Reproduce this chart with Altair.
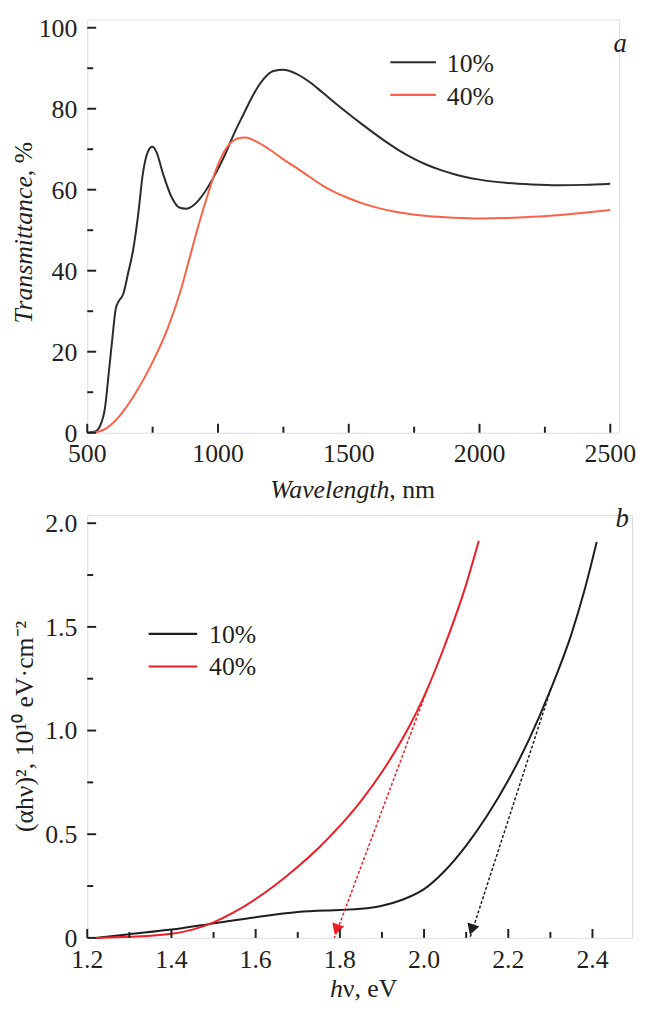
import altair as alt
import pandas as pd

# ---------------- Panel a: transmittance spectra ----------------
wl_10 = [500, 530, 549, 568, 583, 596, 609, 619, 638, 657, 676, 694, 713, 732, 749, 764, 789, 821,
         852, 878, 909, 947, 985, 1023, 1061, 1098, 1136, 1174, 1212, 1250, 1300, 1350, 1400, 1450,
         1500, 1550, 1600, 1650, 1700, 1750, 1800, 1850, 1900, 1950, 2000, 2100, 2200, 2300, 2400, 2500]
tr_10 = [0, 0.3, 1.7, 6.2, 15.2, 23.3, 30.6, 32.3, 34.3, 39.6, 45.3, 53.5, 64.1, 69.4, 70.6, 69.4, 64.1, 58.4,
         55.6, 55.3, 56.3, 59.2, 63.3, 68.1, 73.8, 78.7, 83.6, 87.3, 89.3, 89.6, 88.6, 86.6, 84.0, 81.3,
         78.7, 76.2, 73.8, 71.5, 69.4, 67.6, 66.1, 64.9, 63.9, 63.1, 62.5, 61.7, 61.3, 61.1, 61.2, 61.5]
wl_40 = [520, 568, 619, 682, 745, 808, 859, 897, 928, 959, 997, 1035, 1073, 1105, 1149, 1200, 1250,
         1300, 1350, 1400, 1450, 1500, 1550, 1600, 1700, 1800, 1900, 2000, 2100, 2200, 2300, 2400, 2500]
tr_40 = [0, 0.9, 3.8, 9.5, 16.8, 25.8, 35.5, 44.5, 51.8, 58.4, 65.7, 70.6, 72.6, 72.9, 71.8, 69.8, 67.5,
         65.4, 63.2, 61.0, 59.3, 57.9, 56.7, 55.7, 54.3, 53.5, 53.1, 52.9, 53.0, 53.3, 53.7, 54.3, 55.0]

# ---------------- Panel b: Tauc plot ----------------
hv_10 = [1.22, 1.30, 1.40, 1.50, 1.60, 1.70, 1.80, 1.85, 1.90, 1.95, 2.00, 2.05, 2.10, 2.15,
         2.20, 2.25, 2.30, 2.35, 2.38, 2.41]
ah_10 = [0, 0.018, 0.04, 0.07, 0.10, 0.125, 0.135, 0.14, 0.155, 0.185, 0.235, 0.325, 0.445, 0.59,
         0.76, 0.96, 1.195, 1.465, 1.669, 1.909]
hv_40 = [1.22, 1.30, 1.40, 1.45, 1.50, 1.55, 1.60, 1.65, 1.70, 1.75, 1.80, 1.85, 1.90, 1.95,
         2.00, 2.05, 2.10, 2.13]
ah_40 = [0, 0.005, 0.02, 0.04, 0.075, 0.125, 0.1875, 0.26, 0.3425, 0.435, 0.54, 0.66, 0.80, 0.965,
         1.165, 1.415, 1.705, 1.915]

# extrapolation arrows (start on curve -> band gap on axis)
arrow_series = ["40%", "10%"]
arrow_x0 = [2.007, 2.301]
arrow_y0 = [1.195, 1.20]
arrow_x1 = [1.787, 2.109]
arrow_y1 = [0.0, 0.0]
head_x = [1.792, 2.113]
head_y = [0.04, 0.04]

series = ["10%", "40%"]

# ticks / labels
a_x_major = [500, 1000, 1500, 2000, 2500]
a_x_labels = ["500", "1000", "1500", "2000", "2500"]
a_x_minor = [750, 1250, 1750, 2250]
a_y_major = [0, 20, 40, 60, 80, 100]
a_y_labels = ["0", "20", "40", "60", "80", "100"]
a_y_minor = [10, 30, 50, 70, 90]
b_x_major = [1.2, 1.4, 1.6, 1.8, 2.0, 2.2, 2.4]
b_x_labels = ["1.2", "1.4", "1.6", "1.8", "2.0", "2.2", "2.4"]
b_x_minor = [1.3, 1.5, 1.7, 1.9, 2.1, 2.3]
b_y_major = [0, 0.5, 1.0, 1.5, 2.0]
b_y_labels = ["0", "0.5", "1.0", "1.5", "2.0"]
b_y_minor = [0.25, 0.75, 1.25, 1.75]

FONT = "Liberation Serif, Times New Roman, serif"
INK = "#231f20"
FS = 26

A_W, A_H = 537, 417
B_W, B_H = 550, 427
A_XDOM, A_YDOM = [500, 2534], [0, 102]
B_XDOM, B_YDOM = [1.2, 2.494], [0, 2.04]


def axis(orient):
    return alt.Axis(title=None, ticks=False, labels=False, grid=False, domainColor=INK,
                    domainWidth=2.5, orient=orient)


def frame_layers(xs, ys, w, h, xmaj, xlab, xmin, ymaj, ylab, ymin):
    layers = []
    for vals, ln in ((xmaj, 9), (xmin, 6)):
        layers.append(
            alt.Chart(pd.DataFrame({"v": vals})).mark_rule(color=INK, strokeWidth=2).encode(
                x=alt.X("v:Q", scale=xs, axis=None), y=alt.value(h), y2=alt.value(h - ln)))
    for vals, ln in ((ymaj, 9), (ymin, 6)):
        layers.append(
            alt.Chart(pd.DataFrame({"v": vals})).mark_rule(color=INK, strokeWidth=2).encode(
                y=alt.Y("v:Q", scale=ys, axis=None), x=alt.value(0), x2=alt.value(ln)))
    layers.append(
        alt.Chart(pd.DataFrame({"v": xmaj, "t": xlab})).mark_text(
            font=FONT, fontSize=FS, color=INK, align="center", baseline="alphabetic").encode(
            x=alt.X("v:Q", scale=xs, axis=None), y=alt.value(h + 30), text="t:N"))
    layers.append(
        alt.Chart(pd.DataFrame({"v": ymaj, "t": ylab})).mark_text(
            font=FONT, fontSize=FS, color=INK, align="right", baseline="alphabetic", dy=9).encode(
            y=alt.Y("v:Q", scale=ys, axis=None), x=alt.value(-10), text="t:N"))
    return layers


def txt(s, x, y, italic=False, align="left", angle=0, baseline="middle", size=FS):
    return alt.Chart().mark_text(text=s, font=FONT, fontSize=size, color=INK,
                                 fontStyle="italic" if italic else "normal",
                                 align=align, angle=angle, baseline=baseline).encode(
        x=alt.value(x), y=alt.value(y))


def legend_rule(x1, x2, y, color):
    return alt.Chart().mark_rule(color=color, strokeWidth=2.2).encode(
        x=alt.value(x1), x2=alt.value(x2), y=alt.value(y))


# ---------------- build panel a ----------------
A_BLACK, A_RED = "#2b2b2b", "#fa6146"
ax = alt.Scale(domain=A_XDOM, nice=False, zero=False)
ay = alt.Scale(domain=A_YDOM, nice=False, zero=False)
df_a = pd.concat([
    pd.DataFrame({"x": wl_10, "y": tr_10, "s": series[0]}),
    pd.DataFrame({"x": wl_40, "y": tr_40, "s": series[1]}),
])
lines_a = alt.Chart(df_a).mark_line(strokeWidth=2, interpolate="monotone").encode(
    x=alt.X("x:Q", scale=ax, axis=axis("bottom")),
    y=alt.Y("y:Q", scale=ay, axis=axis("left")),
    color=alt.Color("s:N", scale=alt.Scale(domain=series, range=[A_BLACK, A_RED]), legend=None),
    detail="s:N",
)

panel_a = alt.layer(
    lines_a,
    *frame_layers(ax, ay, A_W, A_H, a_x_major, a_x_labels, a_x_minor, a_y_major, a_y_labels, a_y_minor),
    legend_rule(306, 352, 43, A_BLACK),
    legend_rule(306, 352, 76, A_RED),
    txt(series[0], 363, 45),
    txt(series[1], 363, 78),
    txt("a", 538, 25, italic=True, align="center", size=27),
    txt("Transmittance", -64, 158, italic=True, align="right", angle=270),
    txt(", %", -64, 158, align="left", angle=270),
    txt("Wavelength", 305, 483, italic=True, align="right", baseline="alphabetic"),
    txt(", nm", 305, 483, align="left", baseline="alphabetic"),
).properties(width=A_W, height=A_H)

# ---------------- build panel b ----------------
B_BLACK, B_RED = "#1e1e1e", "#ee1c25"
df_b = pd.concat([
    pd.DataFrame({"x": hv_10, "y": ah_10, "s": series[0]}),
    pd.DataFrame({"x": hv_40, "y": ah_40, "s": series[1]}),
])
bx = alt.Scale(domain=B_XDOM, nice=False, zero=False)
by = alt.Scale(domain=B_YDOM, nice=False, zero=False)
cscale_b = alt.Scale(domain=series, range=[B_BLACK, B_RED])

lines_b = alt.Chart(df_b).mark_line(strokeWidth=2, interpolate="monotone").encode(
    x=alt.X("x:Q", scale=bx, axis=axis("bottom")),
    y=alt.Y("y:Q", scale=by, axis=axis("left")),
    color=alt.Color("s:N", scale=cscale_b, legend=None),
    detail="s:N",
)

df_arrow = pd.DataFrame({"s": arrow_series, "x0": arrow_x0, "y0": arrow_y0,
                         "x1": arrow_x1, "y1": arrow_y1, "hx": head_x, "hy": head_y})
arrow_lines = alt.Chart(df_arrow).mark_rule(strokeWidth=1.5, strokeDash=[3, 2]).encode(
    x=alt.X("x0:Q", scale=bx, axis=None), y=alt.Y("y0:Q", scale=by, axis=None),
    x2="x1:Q", y2="y1:Q",
    color=alt.Color("s:N", scale=cscale_b, legend=None),
)
arrow_heads = alt.Chart(df_arrow).mark_point(shape="triangle-down", filled=True, size=160,
                                             opacity=1, angle=19).encode(
    x=alt.X("hx:Q", scale=bx, axis=None), y=alt.Y("hy:Q", scale=by, axis=None),
    color=alt.Color("s:N", scale=cscale_b, legend=None),
)

panel_b = alt.layer(
    lines_b,
    arrow_lines,
    arrow_heads,
    *frame_layers(bx, by, B_W, B_H, b_x_major, b_x_labels, b_x_minor, b_y_major, b_y_labels, b_y_minor),
    legend_rule(62, 111, 120, B_BLACK),
    legend_rule(62, 111, 153, B_RED),
    txt(series[0], 123, 121),
    txt(series[1], 123, 154),
    txt("b", 540, 4, italic=True, align="center", size=27),
    txt("(αhν)², 10¹⁰ eV·cm⁻²", -63, B_H / 2, align="center", angle=270),
    txt("h", 258, 487, italic=True, align="right", baseline="alphabetic"),
    txt("ν, eV", 258, 487, align="left", baseline="alphabetic"),
).properties(width=B_W, height=B_H)

chart = alt.vconcat(panel_a, panel_b, spacing=83, bounds="flush").properties(
    padding={"left": 2, "top": 2, "right": 0, "bottom": -3}
).resolve_scale(color="independent").configure_view(stroke=None).configure(background="white")

chart.save("out.html", embed_options={"renderer": "svg", "actions": False})
